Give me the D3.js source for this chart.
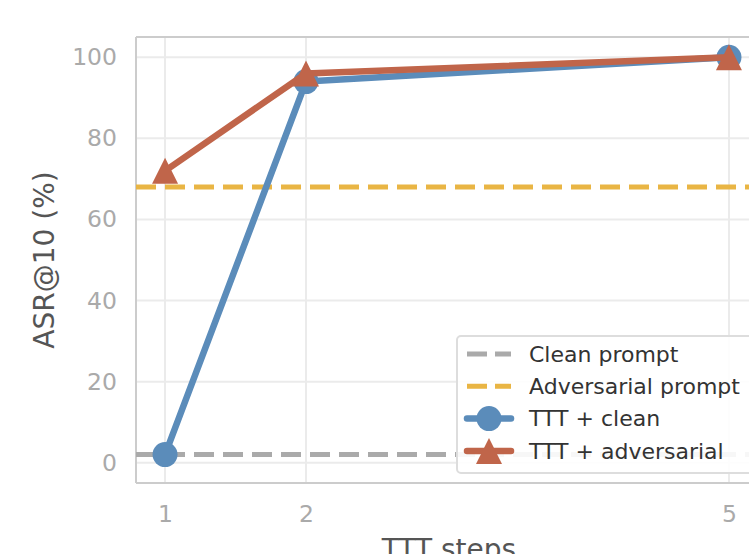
<!DOCTYPE html>
<html>
<head>
<meta charset="utf-8">
<script src="https://cdn.jsdelivr.net/npm/d3@7"></script>
<style>
  body { margin: 0; background: #fff; }
  text { font-family: "DejaVu Sans", sans-serif; }
</style>
</head>
<body>
<div id="chart"></div>
<script>
/* global d3 */

const steps = [1, 2, 5]
const tttClean = [2, 94, 100]
const tttAdversarial = [72, 96, 100]
const cleanPrompt = 2
const adversarialPrompt = 68
const yTicks = [0, 20, 40, 60, 80, 100]
const legendLabels = ['Clean prompt', 'Adversarial prompt', 'TTT + clean', 'TTT + adversarial']

const svgWidth = 749
const svgHeight = 554
const margin = { top: 37, left: 136 }
const width = 622
const height = 446

const colors = {
  grey: '#aaaaaa',
  yellow: '#e9b544',
  blue: '#5b8cba',
  red: '#c0654a'
}

const svg = d3.select('#chart').append('svg')
  .attr('width', svgWidth)
  .attr('height', svgHeight)

const g = svg.append('g')
  .attr('transform', 'translate(' + margin.left + ',' + margin.top + ')')

const xScale = d3.scaleLinear().domain([0.794, 5.206]).range([0, width])
const yScale = d3.scaleLinear().domain([-5, 105]).range([height, 0])

// grid
g.append('g').selectAll('line').data(steps).join('line')
  .attr('x1', d => xScale(d)).attr('x2', d => xScale(d))
  .attr('y1', 0).attr('y2', height)
  .attr('stroke', '#ebebeb').attr('stroke-width', 2)
g.append('g').selectAll('line').data(yTicks).join('line')
  .attr('x1', 0).attr('x2', width)
  .attr('y1', d => yScale(d)).attr('y2', d => yScale(d))
  .attr('stroke', '#ebebeb').attr('stroke-width', 2)

// axes
const xAxis = d3.axisBottom(xScale).tickValues(steps).tickFormat(d3.format('d')).tickSize(0).tickPadding(22)
const yAxis = d3.axisLeft(yScale).tickValues(yTicks).tickSize(0).tickPadding(19)

const xg = g.append('g').attr('transform', 'translate(0,' + height + ')').call(xAxis)
const yg = g.append('g').call(yAxis)
;[xg, yg].forEach(a => {
  a.select('.domain').remove()
  a.selectAll('text').attr('fill', '#aaaaaa').style('font-size', '23.5px')
})

// spines
g.append('line').attr('x1', 0).attr('x2', 0).attr('y1', 0).attr('y2', height)
  .attr('stroke', '#cccccc').attr('stroke-width', 2)
g.append('line').attr('x1', 0).attr('x2', width).attr('y1', 0).attr('y2', 0)
  .attr('stroke', '#cccccc').attr('stroke-width', 2)
g.append('line').attr('x1', 0).attr('x2', width).attr('y1', height).attr('y2', height)
  .attr('stroke', '#cccccc').attr('stroke-width', 2)

// baselines
g.append('line')
  .attr('x1', 0).attr('x2', width)
  .attr('y1', yScale(cleanPrompt)).attr('y2', yScale(cleanPrompt))
  .attr('stroke', colors.grey).attr('stroke-width', 5).attr('stroke-dasharray', '20,9')
g.append('line')
  .attr('x1', 0).attr('x2', width)
  .attr('y1', yScale(adversarialPrompt)).attr('y2', yScale(adversarialPrompt))
  .attr('stroke', colors.yellow).attr('stroke-width', 5).attr('stroke-dasharray', '20,9')

const line = d3.line()
  .x((d, i) => xScale(steps[i]))
  .y(d => yScale(d))

const triangle = 'M0,-13L13,13L-13,13Z'

// TTT + clean
g.append('path').attr('d', line(tttClean))
  .attr('fill', 'none').attr('stroke', colors.blue).attr('stroke-width', 6.5)
  .attr('stroke-linejoin', 'round').attr('stroke-linecap', 'round')
g.append('g').selectAll('circle').data(tttClean).join('circle')
  .attr('cx', (d, i) => xScale(steps[i]))
  .attr('cy', d => yScale(d))
  .attr('r', 12.5)
  .attr('fill', colors.blue)

// TTT + adversarial
g.append('path').attr('d', line(tttAdversarial))
  .attr('fill', 'none').attr('stroke', colors.red).attr('stroke-width', 6.5)
  .attr('stroke-linejoin', 'round').attr('stroke-linecap', 'round')
g.append('g').selectAll('path').data(tttAdversarial).join('path')
  .attr('d', triangle)
  .attr('transform', (d, i) => 'translate(' + xScale(steps[i]) + ',' + yScale(d) + ')')
  .attr('fill', colors.red)

// axis labels
svg.append('text')
  .attr('transform', 'translate(54,' + (margin.top + height / 2) + ') rotate(-90)')
  .attr('text-anchor', 'middle')
  .attr('fill', '#555555')
  .style('font-size', '28px')
  .text('ASR@10 (%)')
svg.append('text')
  .attr('x', margin.left + width / 2 + 2)
  .attr('y', 558.5)
  .attr('text-anchor', 'middle')
  .attr('fill', '#555555')
  .style('font-size', '28px')
  .text('TTT steps')

// legend
const legend = svg.append('g').attr('transform', 'translate(457,336)')
legend.append('rect')
  .attr('width', 300).attr('height', 137).attr('rx', 4)
  .attr('fill', '#ffffff').attr('fill-opacity', 0.9)
  .attr('stroke', '#dddddd').attr('stroke-width', 2)

const rows = legend.selectAll('g.row').data(legendLabels).join('g')
  .attr('class', 'row')
  .attr('transform', (d, i) => 'translate(0,' + (18 + i * 32.3) + ')')

rows.append('line')
  .attr('x1', 10).attr('x2', 54)
  .attr('y1', 0).attr('y2', 0)
  .attr('stroke', (d, i) => [colors.grey, colors.yellow, colors.blue, colors.red][i])
  .attr('stroke-width', (d, i) => i < 2 ? 5 : 6.5)
  .attr('stroke-linecap', (d, i) => i < 2 ? 'butt' : 'round')
  .attr('stroke-dasharray', (d, i) => i < 2 ? '20,8' : null)

rows.filter((d, i) => i === 2).append('circle')
  .attr('cx', 32).attr('cy', 0).attr('r', 12.5).attr('fill', colors.blue)
rows.filter((d, i) => i === 3).append('path')
  .attr('d', triangle)
  .attr('transform', 'translate(32,0)')
  .attr('fill', colors.red)

rows.append('text')
  .attr('x', 72).attr('y', 0).attr('dy', '0.35em')
  .attr('fill', '#333333')
  .style('font-size', '22px')
  .text(d => d)
</script>
</body>
</html>
